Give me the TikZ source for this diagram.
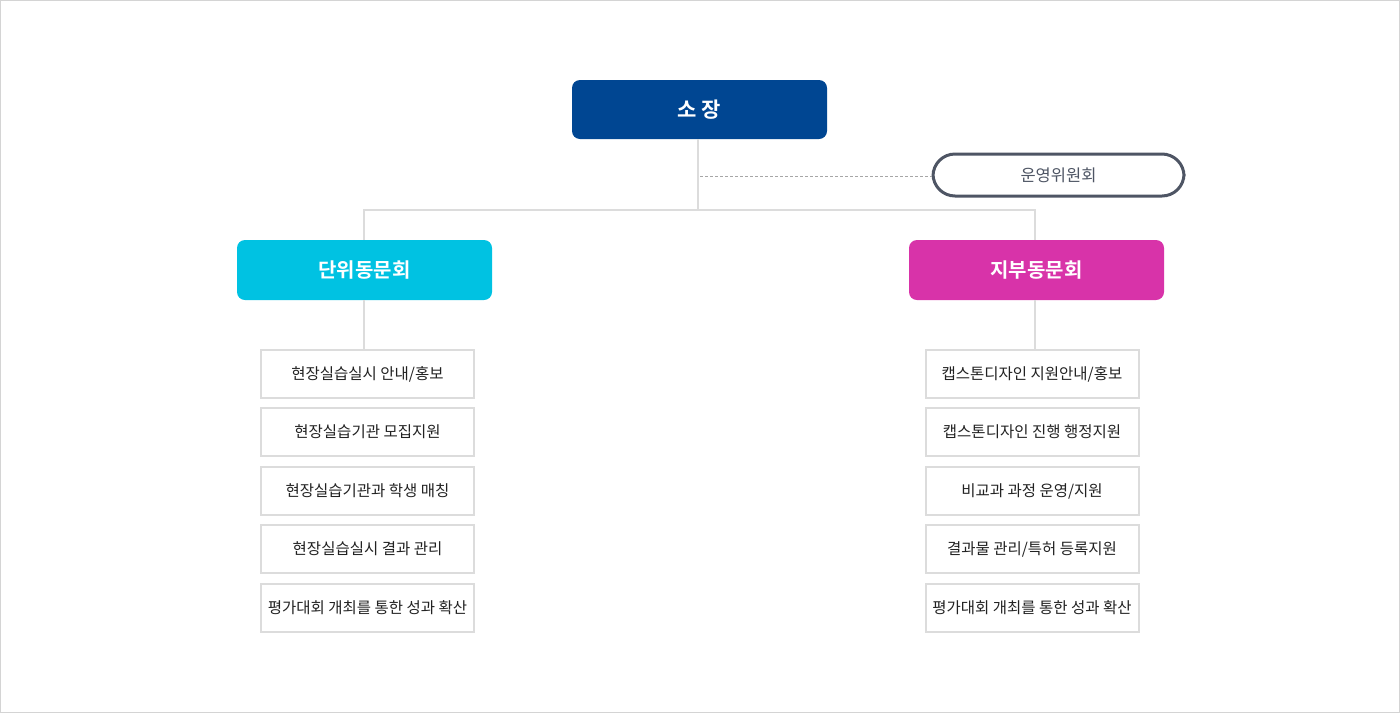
\documentclass[tikz,border=0pt]{standalone}
\usepackage{fontspec}
\newfontfamily\kr{Noto Sans CJK KR}
\newfontfamily\krb{Noto Sans CJK KR Bold}
\definecolor{bossblue}{HTML}{004692}
\definecolor{cyanbox}{HTML}{00C2E2}
\definecolor{magbox}{HTML}{D833A9}
\definecolor{linegray}{HTML}{DCDCDC}
\definecolor{pillgray}{HTML}{4E5564}
\definecolor{txtgray}{HTML}{222222}
\definecolor{frame}{HTML}{D4D4D4}
\tikzset{
  head/.style={rectangle, rounded corners=8pt, minimum width=255pt, minimum height=60pt, inner sep=0pt, text=white, font=\krb\fontsize{20pt}{22pt}\selectfont},
  item/.style={rectangle, draw=linegray, line width=2pt, fill=white, minimum width=213pt, minimum height=48pt, inner sep=0pt, text=txtgray, font=\kr\fontsize{15.5pt}{18pt}\selectfont},
  conn/.style={draw=linegray, line width=2pt},
}
\begin{document}
\begin{tikzpicture}[x=1pt,y=-1pt]
\useasboundingbox (0,0) rectangle (1400,713);
\draw[frame, line width=1pt] (0.5,0.5) rectangle (1399.5,712.5);
% nodes
\node[head, fill=bossblue, minimum height=59pt, font=\krb\fontsize{21pt}{23pt}\selectfont] (boss) at (699.5,109.5) {소 장};
\node[rectangle, rounded corners=22pt, draw=pillgray, line width=3pt, fill=white, minimum width=251pt, minimum height=42pt, inner sep=0pt, text=pillgray, font=\kr\fontsize{16.5pt}{18pt}\selectfont] (com) at (1058.5,175) {운영위원회};
\node[head, fill=cyanbox] (dan) at (364.5,270) {단위동문회};
\node[head, fill=magbox] (jib) at (1036.5,270) {지부동문회};
% left items
\node[item] (l1) at (367.5,374) {현장실습실시 안내/홍보};
\node[item] (l2) at (367.5,432) {현장실습기관 모집지원};
\node[item] (l3) at (367.5,491) {현장실습기관과 학생 매칭};
\node[item] (l4) at (367.5,549) {현장실습실시 결과 관리};
\node[item] (l5) at (367.5,608) {평가대회 개최를 통한 성과 확산};
% right items
\node[item] (r1) at (1032,374) {캡스톤디자인 지원안내/홍보};
\node[item] (r2) at (1032,432) {캡스톤디자인 진행 행정지원};
\node[item] (r3) at (1032,491) {비교과 과정 운영/지원};
\node[item] (r4) at (1032,549) {결과물 관리/특허 등록지원};
\node[item] (r5) at (1032,608) {평가대회 개최를 통한 성과 확산};
% connectors
\coordinate (j) at (698,210);
\coordinate (d) at (700,176);
\coordinate (lj) at (364,210);
\coordinate (rj) at (1035,210);
\draw[conn] (boss.south -| j) -- (j);
\draw[conn] (lj |- dan.north) -- (lj) -- (rj) -- (rj |- jib.north);
\draw[conn] (lj |- dan.south) -- (lj |- l1.north);
\draw[conn] (rj |- jib.south) -- (rj |- r1.north);
\draw[draw=gray!70, line width=1pt, dash pattern=on 3pt off 2pt] (d) -- (d -| com.west);
\end{tikzpicture}
\end{document}
